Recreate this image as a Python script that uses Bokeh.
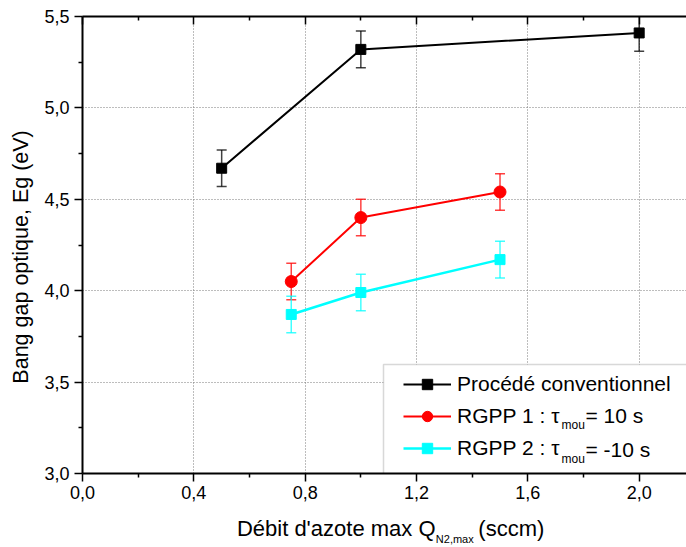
from bokeh.plotting import figure
from bokeh.models import (ColumnDataSource, Whisker, TeeHead, FixedTicker, LinearAxis,
                          Legend, LegendItem, Label, BoxAnnotation, Range1d)
from bokeh.embed import file_html
from bokeh.resources import INLINE

# ---------------- data ----------------
x_conv = [0.5, 1.0, 2.0]
y_conv = [4.67, 5.32, 5.41]
err_conv = [0.10, 0.10, 0.10]

x_rgpp1 = [0.75, 1.0, 1.5]
y_rgpp1 = [4.05, 4.40, 4.54]
err_rgpp1 = [0.10, 0.10, 0.10]

x_rgpp2 = [0.75, 1.0, 1.5]
y_rgpp2 = [3.87, 3.99, 4.17]
err_rgpp2 = [0.10, 0.10, 0.10]

x_ticks = [0.0, 0.4, 0.8, 1.2, 1.6, 2.0]
x_tick_labels = ["0,0", "0,4", "0,8", "1,2", "1,6", "2,0"]
y_ticks = [3.0, 3.5, 4.0, 4.5, 5.0, 5.5]
y_tick_labels = ["3,0", "3,5", "4,0", "4,5", "5,0", "5,5"]

legend_labels = ["Procédé conventionnel", "RGPP 1 : τ", "RGPP 2 : τ"]
legend_tails = ["= 10 s", "= -10 s"]
subscript_text = "mou"
x_label_main = "Débit d'azote max Q"
x_label_sub = "N2,max"
x_label_tail = "(sccm)"
y_label = "Bang gap optique, Eg (eV)"

FONT = "Liberation Sans"
RED = "#ff0000"
CYAN = "#00ffff"
BLACK = "#000000"
NB = "\u00a0"

# ---------------- figure ----------------
p = figure(width=686, height=547, x_range=Range1d(0, 2.17), y_range=Range1d(3.0, 5.5),
           output_backend="svg", toolbar_location=None,
           min_border_left=82, min_border_right=0, min_border_top=16, min_border_bottom=60)
p.outline_line_color = None
p.background_fill_color = "white"
p.border_fill_color = "white"

x_minor = [round(t + 0.2, 2) for t in x_ticks]
y_minor = [round(t + 0.25, 2) for t in y_ticks]
xticker = FixedTicker(ticks=x_ticks, minor_ticks=x_minor)
yticker = FixedTicker(ticks=y_ticks, minor_ticks=y_minor)


def style_axis(ax):
    ax.axis_line_width = 2
    ax.axis_line_color = BLACK
    ax.major_tick_line_width = 1.5
    ax.minor_tick_line_width = 1.5
    ax.major_tick_line_color = BLACK
    ax.minor_tick_line_color = BLACK
    ax.major_label_text_font = FONT
    ax.major_label_text_font_size = "18px"
    ax.major_label_text_color = BLACK
    ax.axis_label_text_font = FONT
    ax.axis_label_text_font_style = "normal"
    ax.axis_label_text_color = BLACK


xa = p.xaxis[0]
xa.ticker = xticker
xa.major_label_overrides = {t: s for t, s in zip(x_ticks, x_tick_labels)}
style_axis(xa)
xa.major_tick_out = 8
xa.major_tick_in = 0
xa.minor_tick_out = 4
xa.minor_tick_in = 0
xa.major_label_standoff = 4
xa.axis_label = NB * 2 + x_label_main + NB * 7 + x_label_tail
xa.axis_label_text_font_size = "22px"
xa.axis_label_standoff = 14

# second (invisible) bottom axis carrying the subscript of Q
xsub = LinearAxis(ticker=FixedTicker(ticks=[]))
xsub.axis_line_color = None
xsub.major_tick_out = 0
xsub.major_tick_in = 0
xsub.minor_tick_out = 0
xsub.minor_tick_in = 0
xsub.major_label_text_font_size = "1px"
xsub.major_label_text_alpha = 0
xsub.major_label_standoff = 0
xsub.axis_label = NB * 46 + x_label_sub
xsub.axis_label_text_font = FONT
xsub.axis_label_text_font_size = "11px"
xsub.axis_label_text_font_style = "normal"
xsub.axis_label_text_color = BLACK
xsub.axis_label_standoff = -11
p.add_layout(xsub, "below")

ya = p.yaxis[0]
ya.ticker = yticker
ya.major_label_overrides = {t: s for t, s in zip(y_ticks, y_tick_labels)}
style_axis(ya)
ya.major_tick_out = 8
ya.major_tick_in = 0
ya.minor_tick_out = 4
ya.minor_tick_in = 0
ya.major_label_standoff = 5
ya.axis_label = y_label + NB * 4
ya.axis_label_text_font_size = "21.5px"
ya.axis_label_standoff = 8

top = LinearAxis(ticker=xticker)
style_axis(top)
top.major_tick_in = 8
top.major_tick_out = 0
top.minor_tick_in = 4
top.minor_tick_out = 0
top.major_label_text_font_size = "1px"
top.major_label_text_alpha = 0
top.major_label_standoff = 0
p.add_layout(top, "above")

for g, tk in ((p.xgrid[0], xticker), (p.ygrid[0], yticker)):
    g.ticker = tk
    g.grid_line_color = "#7a7a7a"
    g.grid_line_dash = "1 2"
    g.grid_line_width = 1

# legend background box (screen units relative to the frame)
box = BoxAnnotation(left=301, right=800, bottom=-20, top=109,
                    left_units="screen", right_units="screen",
                    bottom_units="screen", top_units="screen",
                    fill_color="white", fill_alpha=1.0,
                    line_color="#7f7f7f", line_width=1.5, level="underlay")
p.add_layout(box)

# ---------------- series ----------------
series = [
    (x_conv, y_conv, err_conv, BLACK, "square", 10, 2.0),
    (x_rgpp1, y_rgpp1, err_rgpp1, RED, "circle", 12, 2.0),
    (x_rgpp2, y_rgpp2, err_rgpp2, CYAN, "square", 10, 2.5),
]
items = []
for (xs, ys, es, col, mk, sz, lw), lab in zip(series, legend_labels):
    src = ColumnDataSource(dict(x=xs, y=ys,
                                upper=[a + b for a, b in zip(ys, es)],
                                lower=[a - b for a, b in zip(ys, es)]))
    w = Whisker(source=src, base="x", upper="upper", lower="lower", dimension="height",
                line_color=col, line_width=1.5, line_alpha=0.75,
                upper_head=TeeHead(size=10, line_color=col, line_width=1.5, line_alpha=0.75),
                lower_head=TeeHead(size=10, line_color=col, line_width=1.5, line_alpha=0.75))
    p.add_layout(w)
    ln = p.line("x", "y", source=src, line_color=col, line_width=lw)
    sc = p.scatter("x", "y", source=src, marker=mk, size=sz, fill_color=col, line_color=col)
    items.append(LegendItem(label=lab, renderers=[ln, sc]))

legend = Legend(items=items, location=(321, 12), orientation="vertical",
                border_line_alpha=0, background_fill_alpha=0, padding=0, margin=0,
                spacing=6, glyph_width=48, glyph_height=26, label_height=26,
                label_standoff=6, label_text_font=FONT, label_text_font_size="21px",
                label_text_baseline="middle", label_text_color=BLACK)
p.add_layout(legend)

# subscripts and tails of legend labels
for row_y, tail in zip([58, 24], legend_tails):
    p.add_layout(Label(x=479, y=row_y - 9, x_units="screen", y_units="screen",
                       text=subscript_text, text_font=FONT, text_font_size="12px",
                       text_align="left", text_baseline="middle", text_color=BLACK))
    p.add_layout(Label(x=503, y=row_y, x_units="screen", y_units="screen",
                       text=tail, text_font=FONT, text_font_size="21px",
                       text_align="left", text_baseline="middle", text_color=BLACK))

open("out.html", "w").write(file_html(p, INLINE))
